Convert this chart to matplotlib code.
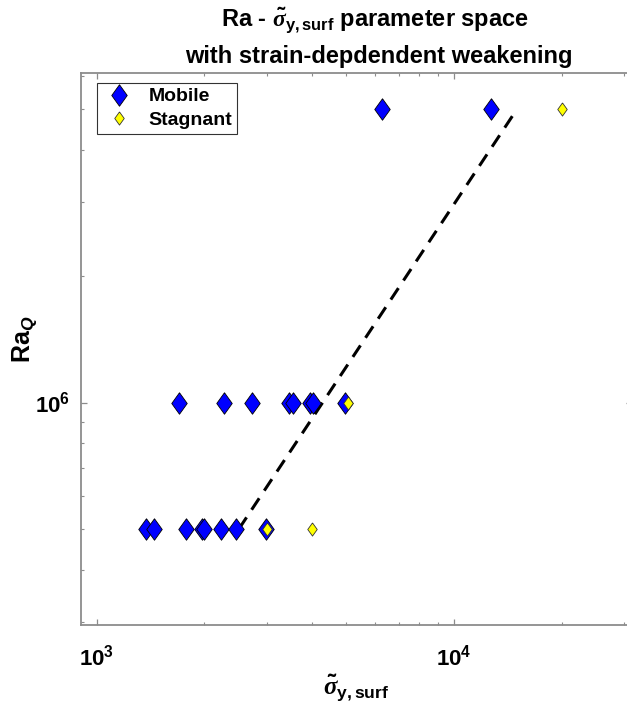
import numpy as np
import matplotlib
matplotlib.use('Agg')
import matplotlib.pyplot as plt
from matplotlib.ticker import LogLocator, LogFormatterMathtext, NullFormatter

# data
mobile_x = [1375, 1450, 1775, 1975, 2000, 2225, 2450, 2975,
            1700, 2275, 2725, 3450, 3550, 3950, 4025, 4950,
            6300, 12700]
mobile_y = [5e5, 5e5, 5e5, 5e5, 5e5, 5e5, 5e5, 5e5,
            1e6, 1e6, 1e6, 1e6, 1e6, 1e6, 1e6, 1e6,
            5e6, 5e6]
stagnant_x = [3000, 4000, 5050, 20000]
stagnant_y = [5e5, 5e5, 1e6, 5e6]
fit_x = [2500, 15000]
fit_y = [5e5, 5e6]

plt.rcParams['font.family'] = ['Liberation Sans', 'DejaVu Sans']
plt.rcParams['font.weight'] = 'bold'
plt.rcParams['mathtext.fontset'] = 'custom'
plt.rcParams['mathtext.rm'] = 'Liberation Sans:bold'
plt.rcParams['mathtext.bf'] = 'Liberation Sans:bold'
plt.rcParams['mathtext.it'] = 'Liberation Serif:italic'
plt.rcParams['mathtext.sf'] = 'Liberation Sans:bold:italic'
plt.rcParams['mathtext.default'] = 'bf'

# MATLAB-like diamond (taller than wide)
diamond = [(0, 1), (0.72, 0), (0, -1), (-0.72, 0), (0, 1)]

fig = plt.figure(figsize=(6.27, 7.11), dpi=100)
ax = fig.add_axes([81 / 627, 1 - 625 / 711, 551 / 627, 552 / 711])

ax.plot(fit_x, fit_y, color='black', linestyle=(0, (4.5, 3)), linewidth=2.2, zorder=2)
ax.plot(mobile_x, mobile_y, linestyle='none', marker=diamond, markersize=15.5,
        markerfacecolor='#0000ff', markeredgecolor='black', markeredgewidth=0.6,
        label='Mobile', zorder=3)
ax.plot(stagnant_x, stagnant_y, linestyle='none', marker=diamond, markersize=9.5,
        markerfacecolor='#ffff00', markeredgecolor='#333333', markeredgewidth=0.6,
        label='Stagnant', zorder=4)

ax.set_xscale('log')
ax.set_yscale('log')
ax.set_xlim(903, 31500)
ax.set_ylim(2.95e5, 6.1e6)

ax.xaxis.set_major_locator(LogLocator(base=10))
ax.yaxis.set_major_locator(LogLocator(base=10))
ax.xaxis.set_major_formatter(LogFormatterMathtext())
ax.yaxis.set_major_formatter(LogFormatterMathtext())
ax.xaxis.set_minor_formatter(NullFormatter())
ax.yaxis.set_minor_formatter(NullFormatter())

spine_col = '#8c8c8c'
for s in ax.spines.values():
    s.set_color(spine_col)
    s.set_linewidth(1.3)
ax.tick_params(which='both', direction='in', top=True, right=True,
               color=spine_col, labelcolor='black', labelsize=16)
ax.tick_params(which='major', length=4.5, width=0.9)
ax.tick_params(axis='x', which='major', pad=14)
ax.tick_params(axis='y', which='major', pad=8)
ax.tick_params(which='minor', length=2.5, width=0.8)

ax.set_xlabel(r'$\tilde{\mathit{\sigma}}_{\mathrm{y,surf}}$', fontsize=18, labelpad=2)
ax.set_ylabel(r'$\mathrm{Ra}_{\mathsf{Q}}$', fontsize=18)
ax.yaxis.set_label_coords(-0.077, 0.518)

fig.text(375 / 627, 1 - 20 / 711,
         r'Ra - $\tilde{\mathit{\sigma}}_{\mathrm{y,surf}}$ parameter space',
         ha='center', va='center', fontsize=17, fontweight='bold')
fig.text(379 / 627, 1 - 56 / 711, 'with strain-depdendent weakening',
         ha='center', va='center', fontsize=17, fontweight='bold')

leg = ax.legend(loc='upper left', bbox_to_anchor=(16 / 551, 1 - 10 / 552),
                fontsize=14, frameon=True, fancybox=False, borderpad=0.25,
                handletextpad=0.6, labelspacing=0.3, borderaxespad=0,
                handlelength=1.8)
leg.get_frame().set_edgecolor('black')
leg.get_frame().set_linewidth(0.8)

fig.savefig('out.png', dpi=100)
